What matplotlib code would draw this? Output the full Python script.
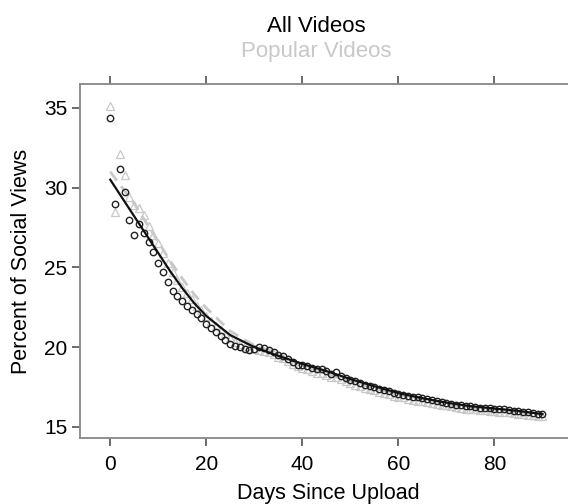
import matplotlib
matplotlib.use("Agg")
import matplotlib.pyplot as plt

plt.rcParams['font.family'] = ['Liberation Sans', 'DejaVu Sans']

days = list(range(91))

all_videos = [34.35, 28.95, 31.15, 29.75, 27.95, 27.05, 27.70, 27.15, 26.60, 25.95,
              25.25, 24.70, 24.10, 23.50, 23.20, 22.90, 22.60, 22.35, 22.10, 21.80,
              21.45, 21.20, 20.95, 20.70, 20.45, 20.20, 20.10, 20.00, 19.90, 19.85,
              19.90, 20.00, 19.95, 19.85, 19.70, 19.50, 19.45, 19.25, 19.05, 18.90,
              18.85, 18.80, 18.70, 18.65, 18.60, 18.52, 18.32, 18.45, 18.20, 18.05,
              17.95, 17.85, 17.75, 17.65, 17.57, 17.50, 17.40, 17.30, 17.25, 17.15,
              17.05, 17.00, 16.95, 16.90, 16.85, 16.80, 16.74, 16.70, 16.65, 16.58,
              16.50, 16.46, 16.40, 16.35, 16.30, 16.28, 16.24, 16.20, 16.21, 16.17,
              16.15, 16.14, 16.09, 16.05, 16.00, 15.98, 15.95, 15.90, 15.87, 15.82,
              15.78]

popular_videos = [35.10, 28.50, 32.10, 30.80, 29.40, 28.90, 28.75, 28.30, 27.60, 27.00,
                  26.50, 25.90, 25.30, 24.70, 24.20, 23.80, 23.40, 23.00, 22.60, 22.30,
                  21.95, 21.65, 21.35, 21.05, 20.80, 20.55, 20.35, 20.20, 20.05, 19.95,
                  19.90, 19.85, 19.75, 19.70, 19.55, 19.40, 19.30, 19.15, 18.95, 18.80,
                  18.70, 18.60, 18.50, 18.40, 18.35, 18.25, 18.15, 18.10, 18.00, 17.85,
                  17.75, 17.65, 17.55, 17.45, 17.35, 17.30, 17.20, 17.10, 17.05, 16.95,
                  16.90, 16.85, 16.75, 16.70, 16.65, 16.60, 16.55, 16.50, 16.45, 16.40,
                  16.35, 16.30, 16.25, 16.20, 16.15, 16.15, 16.10, 16.05, 16.05, 16.00,
                  16.00, 15.95, 15.92, 15.90, 15.85, 15.82, 15.80, 15.75, 15.72, 15.70,
                  15.68]

fit_days = [0, 2.5, 5, 7.5, 10, 12.5, 15, 17.5, 20, 25, 30, 35, 40, 45, 50, 55, 60, 65, 70, 75, 80, 85, 90]
fit_all = [30.5, 29.35, 28.2, 27.05, 25.9, 24.75, 23.7, 22.75, 21.95, 20.75, 20.0, 19.45, 18.95,
           18.5, 18.0, 17.55, 17.12, 16.8, 16.52, 16.3, 16.15, 16.0, 15.8]
fit_popular = [31.0, 30.0, 29.0, 27.8, 26.6, 25.4, 24.3, 23.3, 22.45, 21.0, 20.1, 19.45, 18.85,
               18.3, 17.85, 17.42, 17.02, 16.68, 16.38, 16.16, 16.0, 15.85, 15.7]

xticks = [0, 20, 40, 60, 80]
yticks = [15, 20, 25, 30, 35]

W, H = 568, 504
fig = plt.figure(figsize=(W / 100, H / 100), dpi=100)
left, right, top, bottom = 80, 576, 84, 438
ax = fig.add_axes([left / W, 1 - bottom / H, (right - left) / W, (bottom - top) / H])

light = '#c8c8c8'
ax.plot(days, popular_videos, linestyle='none', marker='^', markersize=6,
        markerfacecolor='none', markeredgecolor=light, markeredgewidth=0.9)
ax.plot(fit_days, fit_popular, color=light, linestyle=(0, (4, 2.5)), linewidth=2.0)
ax.plot(days, all_videos, linestyle='none', marker='o', markersize=4.6,
        markerfacecolor='none', markeredgecolor='#222222', markeredgewidth=1.0)
ax.plot(fit_days, fit_all, color='#111111', linewidth=1.6)

ax.set_xlim(-6.3, 97.0)
ax.set_ylim(14.3, 36.5)
ax.set_xticks(xticks)
ax.set_yticks(yticks)
ax.tick_params(direction='out', length=6, width=1.1, color='#444444',
               labelsize=15, pad=3, top=True, right=False)
ax.tick_params(axis='x', pad=6)
for s in ax.spines.values():
    s.set_color('#888888')
    s.set_linewidth(1.3)
ax.spines['right'].set_visible(False)

ax.set_xlabel('Days Since Upload', fontsize=15.5, labelpad=7)
ax.set_ylabel('Percent of Social Views', fontsize=15.5, labelpad=9)

fig.text(316 / W, 1 - 27 / H, 'All Videos', ha='center', va='center', fontsize=16, color='black')
fig.text(316 / W, 1 - 52 / H, 'Popular Videos', ha='center', va='center', fontsize=16, color='#c8c8c8')

fig.savefig('out.png', dpi=100)
